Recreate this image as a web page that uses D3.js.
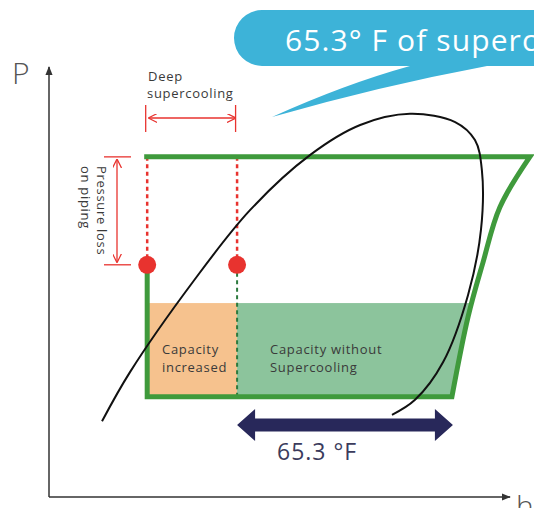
<!DOCTYPE html>
<html>
<head>
<meta charset="utf-8">
<script src="https://cdn.jsdelivr.net/npm/d3@7"></script>
<style>
  body { margin: 0; background: #fff; }
  svg { display: block; font-family: 'Open Sans', sans-serif; }
</style>
</head>
<body>
<div id="chart"></div>
<script>
// values in diagram units (h: enthalpy 0-100, P: pressure 0-100)
const domeH  = [11.5, 17.6, 31.2, 43.6, 56.6, 67.5, 78.3, 88.1, 92.4, 93.9, 93.7, 90.9, 85.5, 79.4, 74.4];
const domeP  = [17.6, 29.1, 50.0, 66.7, 79.5, 86.5, 89.1, 87.2, 83.0, 76.0, 62.1, 47.0, 31.4, 22.6, 19.1];
const compH  = [87.4, 90.9, 94.1, 97.8, 104.3];
const compP  = [23.3, 41.9, 54.4, 67.4, 79.1];
const cycleH = [21.3, 40.8];          // liquid line without / with deep supercooling
const cycleP = [79.1, 54.0, 45.1, 23.3]; // high, after pipe loss, capacity top, low
const labels = ['Deep', 'supercooling', 'Pressure loss', 'on piping',
                'Capacity', 'increased', 'Capacity without', 'Supercooling'];
const tempLabel = '65.3 °F';
const bubbleLabel = '65.3° F of supercooling';

const green = '#3f9a3c';
const red   = '#e8332f';
const navy  = '#28285a';
const ink   = '#3a3a3a';

const W = 534, H = 508;
const svg = d3.select('#chart').append('svg').attr('width', W).attr('height', H);

const x = d3.scaleLinear().domain([0, 100]).range([49, 510]);
const y = d3.scaleLinear().domain([0, 100]).range([497, 67]);

const [hiP, lossP, capP, loP] = cycleP;
const [hA, hB] = cycleH;

// arrow markers
const defs = svg.append('defs');
defs.append('marker').attr('id', 'axArrow').attr('viewBox', '0 0 10 10')
  .attr('refX', 9).attr('refY', 5).attr('markerWidth', 6).attr('markerHeight', 6)
  .attr('orient', 'auto')
  .append('path').attr('d', 'M0,1 L10,5 L0,9 Z').attr('fill', '#333');
defs.append('marker').attr('id', 'redArrow').attr('viewBox', '0 0 10 10')
  .attr('refX', 9).attr('refY', 5).attr('markerWidth', 9).attr('markerHeight', 9)
  .attr('markerUnits', 'userSpaceOnUse').attr('orient', 'auto-start-reverse')
  .append('path').attr('d', 'M0,0 L10,5 L0,10').attr('fill', 'none').attr('stroke', red).attr('stroke-width', 1.4);

// paths
const compPts = compH.map((h, i) => [x(h), y(compP[i])]);
const curveLine = d3.line().curve(d3.curveCatmullRom.alpha(0.5));
const compUp = curveLine(compPts).replace(/^M[^C]*/, '');
const outline = `M${x(hA)},${y(lossP)} L${x(hA)},${y(loP)} L${compPts[0][0]},${compPts[0][1]} ${compUp} L${x(hA) - 3},${y(hiP)}`;
const region  = `M${x(hA)},${y(hiP)} L${x(hA)},${y(loP)} L${compPts[0][0]},${compPts[0][1]} ${compUp} Z`;

defs.append('clipPath').attr('id', 'cycleClip').append('path').attr('d', region);

// capacity fills
const fills = svg.append('g').attr('clip-path', 'url(#cycleClip)');
fills.append('rect')
  .attr('x', x(hA)).attr('y', y(capP))
  .attr('width', x(hB) - x(hA)).attr('height', y(loP) - y(capP))
  .attr('fill', '#f6c28e');
fills.append('rect')
  .attr('x', x(hB)).attr('y', y(capP))
  .attr('width', x(110) - x(hB)).attr('height', y(loP) - y(capP))
  .attr('fill', '#8cc49c');

// axes
svg.append('line').attr('x1', x(0)).attr('y1', y(0)).attr('x2', x(0)).attr('y2', y(100))
  .attr('stroke', '#333').attr('stroke-width', 1.5).attr('marker-end', 'url(#axArrow)');
svg.append('line').attr('x1', x(0)).attr('y1', y(0)).attr('x2', x(100)).attr('y2', y(0))
  .attr('stroke', '#333').attr('stroke-width', 1.5).attr('marker-end', 'url(#axArrow)');
svg.append('text').attr('x', 12).attr('y', 84).text('P')
  .style('font-size', '30px').style('font-weight', 300).style('fill', '#555');
svg.append('text').attr('x', 516).attr('y', 517).text('h')
  .style('font-size', '30px').style('font-weight', 300).style('fill', '#555');

// dashed guides
[hA, hB].forEach(h => {
  svg.append('line').attr('x1', x(h)).attr('x2', x(h)).attr('y1', y(hiP)).attr('y2', y(lossP))
    .attr('stroke', red).attr('stroke-width', 2.5).attr('stroke-dasharray', '4,3.5');
});
svg.append('line').attr('x1', x(hB)).attr('x2', x(hB)).attr('y1', y(lossP) + 8).attr('y2', y(loP))
  .attr('stroke', '#2c7a3e').attr('stroke-width', 2).attr('stroke-dasharray', '4,3.5');

// refrigeration cycle
svg.append('path').attr('d', outline).attr('fill', 'none')
  .attr('stroke', green).attr('stroke-width', 5).attr('stroke-linejoin', 'miter');

// saturation dome
svg.append('path').attr('d', curveLine(domeH.map((h, i) => [x(h), y(domeP[i])])))
  .attr('fill', 'none').attr('stroke', '#111').attr('stroke-width', 2);

// red dots
svg.selectAll('.dot').data(cycleH).join('circle').attr('class', 'dot')
  .attr('cx', d => x(d)).attr('cy', y(lossP)).attr('r', 9).attr('fill', red);

const lab = sel => sel.style('font-size', '13px').style('letter-spacing', '0.7px').style('fill', ink);

// deep supercooling annotation
const aY = 118;
svg.append('line').attr('x1', x(hA) + 2).attr('x2', x(hB) - 2).attr('y1', aY).attr('y2', aY)
  .attr('stroke', red).attr('stroke-width', 1.3)
  .attr('marker-start', 'url(#redArrow)').attr('marker-end', 'url(#redArrow)');
[hA, hB].forEach(h => {
  svg.append('line').attr('x1', x(h) - 1.5).attr('x2', x(h) - 1.5).attr('y1', 105).attr('y2', 132)
    .attr('stroke', red).attr('stroke-width', 1.3);
});
svg.append('text').attr('x', 148).attr('y', 81).text(labels[0]).call(lab);
svg.append('text').attr('x', 147).attr('y', 98).text(labels[1]).call(lab);

// pressure loss annotation
[hiP, lossP].forEach(p => {
  svg.append('line').attr('x1', 104).attr('x2', 131).attr('y1', y(p)).attr('y2', y(p))
    .attr('stroke', red).attr('stroke-width', 1.3);
});
svg.append('line').attr('x1', 117).attr('x2', 117).attr('y1', y(hiP) + 3).attr('y2', y(lossP) - 3)
  .attr('stroke', red).attr('stroke-width', 1.3)
  .attr('marker-start', 'url(#redArrow)').attr('marker-end', 'url(#redArrow)');
svg.append('text').attr('transform', 'translate(97,166) rotate(90)').text(labels[2]).call(lab);
svg.append('text').attr('transform', 'translate(81,166) rotate(90)').text(labels[3]).call(lab);

// capacity labels
svg.append('text').attr('x', 162).attr('y', 354).text(labels[4]).call(lab);
svg.append('text').attr('x', 162).attr('y', 372).text(labels[5]).call(lab);
svg.append('text').attr('x', 270).attr('y', 354).text(labels[6]).call(lab);
svg.append('text').attr('x', 270).attr('y', 372).text(labels[7]).call(lab);

// navy double arrow across the supercooling range
const x0 = x(hB), x1 = compPts[0][0] + 1, cy = 425, sh = 6.5, hl = 18, hh = 16;
svg.append('path')
  .attr('d', `M${x0},${cy} L${x0 + hl},${cy - hh} L${x0 + hl},${cy - sh} L${x1 - hl},${cy - sh} L${x1 - hl},${cy - hh}
              L${x1},${cy} L${x1 - hl},${cy + hh} L${x1 - hl},${cy + sh} L${x0 + hl},${cy + sh} L${x0 + hl},${cy + hh} Z`)
  .attr('fill', navy);
svg.append('text').attr('x', 277).attr('y', 460).text(tempLabel)
  .style('font-size', '23px').style('letter-spacing', '1px').style('fill', '#3b3b5c');

// speech bubble
svg.append('path')
  .attr('d', 'M262,10 L600,10 L600,66 L487,66 Q380,86 272,117 Q345,84 410,66 L262,66 A28,28 0 0 1 262,10 Z')
  .attr('fill', '#3db3d8');
svg.append('text').attr('x', 285).attr('y', 51).text(bubbleLabel)
  .style('font-size', '30px').style('letter-spacing', '1.1px').style('fill', '#fff');
</script>
</body>
</html>
